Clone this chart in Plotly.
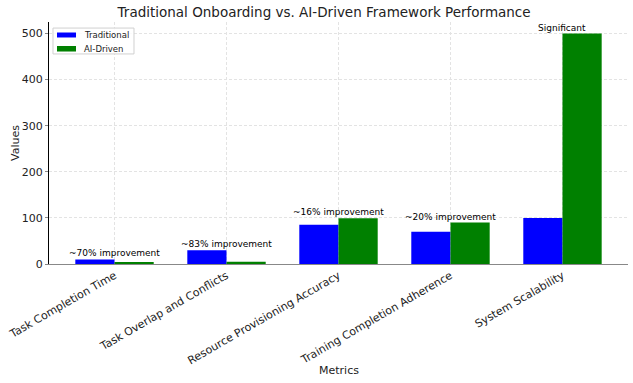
import plotly.graph_objects as go

metrics = ["Task Completion Time", "Task Overlap and Conflicts", "Resource Provisioning Accuracy",
           "Training Completion Adherence", "System Scalability"]
traditional = [10, 30, 85, 70, 100]
ai_driven = [3, 5, 99, 90, 500]
notes = ["~70% improvement", "~83% improvement", "~16% improvement", "~20% improvement", "Significant"]
series_names = ["Traditional", "AI-Driven"]
series_colors = ["#0000ff", "#008000"]

fig = go.Figure()
for name, vals, col in zip(series_names, [traditional, ai_driven], series_colors):
    fig.add_trace(go.Bar(x=metrics, y=vals, name=name, marker=dict(color=col, line=dict(width=0)),
                         showlegend=False))

for m, t, a, n in zip(metrics, traditional, ai_driven, notes):
    fig.add_annotation(x=m, y=max(t, a), text=n, showarrow=False, yanchor="bottom", xanchor="center",
                       yshift=-1, font=dict(size=9, color="black"))

# axis titles
fig.add_annotation(text="Metrics", xref="paper", yref="paper", x=0.5, y=-0.44, showarrow=False,
                   xanchor="center", yanchor="middle", font=dict(size=11, color="#222"))
fig.add_annotation(text="Values", xref="paper", yref="paper", x=-0.0587, y=0.5, showarrow=False,
                   textangle=-90, xanchor="center", yanchor="middle", font=dict(size=11, color="#222"))

# legend (matplotlib-style box)
fig.add_shape(type="rect", xref="paper", yref="paper", x0=0.0069, x1=0.1468, y0=0.868, y1=0.975,
              line=dict(color="#d0d0d0", width=1), fillcolor="rgba(255,255,255,0.85)", layer="above")
leg_y = [(0.936, 0.9566, 0.946), (0.878, 0.9008, 0.889)]
for (y0, y1, yc), name, col in zip(leg_y, series_names, series_colors):
    fig.add_shape(type="rect", xref="paper", yref="paper", x0=0.0138, x1=0.0466, y0=y0, y1=y1,
                  line=dict(width=0), fillcolor=col, layer="above")
    fig.add_annotation(text=name, xref="paper", yref="paper", x=0.0575, y=yc, showarrow=False,
                       xanchor="left", yanchor="middle", font=dict(size=8.5, color="#222"))

fig.update_layout(
    width=633, height=383,
    margin=dict(l=49, r=5, t=22, b=119, autoexpand=False),
    plot_bgcolor="white", paper_bgcolor="white",
    font=dict(family="DejaVu Sans", size=11, color="#222"),
    barmode="group", bargap=0.3, bargroupgap=0,
    title=dict(text="Traditional Onboarding vs. AI-Driven Framework Performance", x=0.512, xanchor="center",
               y=0.968, yanchor="middle", font=dict(size=13.5, color="#222"), automargin=False),
    showlegend=False,
)
fig.update_xaxes(range=[-0.585, 4.585], tickangle=-30, showgrid=True, gridcolor="#e3e3e3", griddash="3px,2px",
                 gridwidth=1, showline=True, linecolor="#888888", linewidth=1.2, automargin=False,
                 ticks="", tickfont=dict(size=11))
fig.update_yaxes(range=[0, 525], tickvals=[0, 100, 200, 300, 400, 500], showgrid=True, gridcolor="#e3e3e3",
                 griddash="3px,2px", gridwidth=1, showline=True, linecolor="black", linewidth=1.2,
                 ticks="outside", ticklen=3, tickcolor="#888888", zeroline=False, automargin=False,
                 tickfont=dict(size=11))

fig.write_html("out.html", config={"displayModeBar": False},
               post_script="document.body.style.margin='0';document.body.style.overflow='hidden';")
